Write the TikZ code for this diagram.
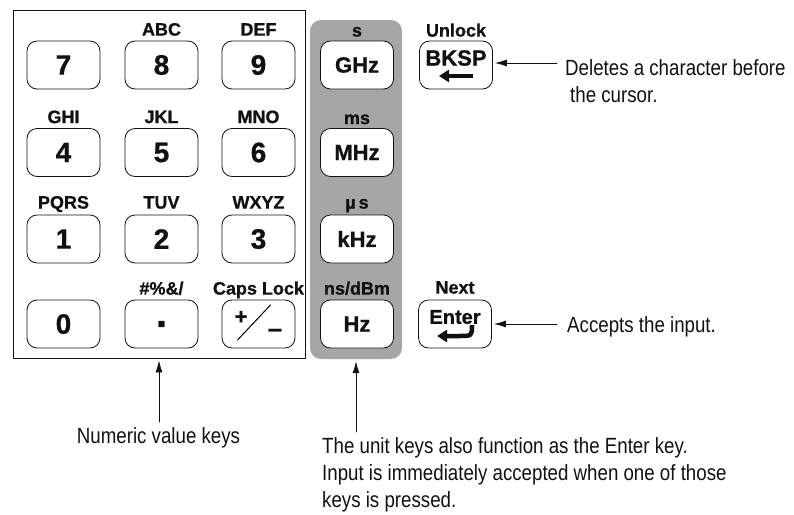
\documentclass[tikz,border=0pt]{standalone}
\usepackage{fontspec}
\setmainfont{Liberation Sans}
\newfontfamily\notefont[FakeStretch=0.85]{Liberation Sans}
\newfontfamily\keyfont[FakeBold=0.8]{Liberation Sans Bold}
\usepackage{tikz}
\usetikzlibrary{arrows.meta,positioning}
\definecolor{kpInk}{HTML}{111111}
\definecolor{kpPanel}{HTML}{A6A6A6}
\tikzset{
  kp diagram/.style={x=1pt, y=-1pt, text=kpInk,
    line cap=round, line join=round},
  kp frame/.style={draw=kpInk, line width=0.8pt, inner sep=0pt,
    minimum width=292pt, minimum height=348pt},
  kp unit panel/.style={fill=kpPanel, rounded corners=11pt, inner sep=0pt,
    minimum width=92pt, minimum height=339pt},
  kp key/.style={draw=kpInk, fill=white, line width=0.8pt,
    rounded corners=10pt, inner sep=0pt,
    minimum width=73pt, minimum height=48pt,
    font=\keyfont\fontsize{28}{28}\selectfont},
  kp unit key/.style={kp key, font=\keyfont\fontsize{22}{22}\selectfont},
  kp key text/.style={inner sep=0pt, font=\keyfont\fontsize{22}{22}\selectfont},
  kp legend/.style={inner sep=0pt, anchor=base,
    font=\keyfont\fontsize{18}{18}\selectfont},
  kp note/.style={inner sep=0pt, align=left,
    font=\notefont\fontsize{22}{27}\selectfont},
  kp arrow/.style={-{Latex[length=12pt,width=7pt]}, draw=kpInk,
    line width=0.8pt, shorten >=2pt},
  kp heavy/.style={-{Triangle[length=10pt,width=12pt]}, draw=kpInk,
    line width=4.5pt, line cap=butt}
}
\begin{document}
\begin{tikzpicture}[kp diagram]
\useasboundingbox (0,0) rectangle (794,514);
% panels
\node[kp frame] (numbox) at (159,184) {};
\node[kp unit panel] (unitpanel) at (356,189.5) {};
% numeric keys
\node[kp key] (k7) at (63.5,65) {7};
\node[kp key] (k8) at (161.5,65) {8};
\node[kp key] (k9) at (258.5,65) {9};
\node[kp key] (k4) at (63.5,152.5) {4};
\node[kp key] (k5) at (161.5,152.5) {5};
\node[kp key] (k6) at (258.5,152.5) {6};
\node[kp key] (k1) at (63.5,239) {1};
\node[kp key] (k2) at (161.5,239) {2};
\node[kp key] (k3) at (258.5,239) {3};
\node[kp key] (k0) at (63.5,324) {0};
\node[kp key, font=\keyfont\fontsize{40}{40}\selectfont] (kdot) at (161.5,324) {.};
\node[kp key] (ksign) at (258.5,324) {};
\node[kp key text] (kplus) at ([xshift=-17.5pt,yshift=6.5pt]ksign.center) {+};
\node[kp key text, font=\keyfont\fontsize{26}{26}\selectfont] (kminus)
  at ([xshift=16.5pt,yshift=-9pt]ksign.center) {–};
\draw[line width=1pt] ([xshift=-21pt,yshift=-16pt]ksign.center)
  -- ([xshift=12pt,yshift=19pt]ksign.center);
\node[kp legend] at ([yshift=5pt]k8.north) {ABC};
\node[kp legend] at ([yshift=5pt]k9.north) {DEF};
\node[kp legend] at ([yshift=5pt]k4.north) {GHI};
\node[kp legend] at ([yshift=5pt]k5.north) {JKL};
\node[kp legend] at ([yshift=5pt]k6.north) {MNO};
\node[kp legend] at ([yshift=6pt]k1.north) {PQRS};
\node[kp legend] at ([yshift=6pt]k2.north) {TUV};
\node[kp legend] at ([yshift=6pt]k3.north) {WXYZ};
\node[kp legend] at ([yshift=5pt]kdot.north) {\#\%\&/};
\node[kp legend] at ([yshift=5pt]ksign.north) {Caps Lock};
% unit keys
\node[kp unit key] (ghz) at (357,65) {GHz};
\node[kp unit key] (mhz) at (357,152.5) {MHz};
\node[kp unit key] (khz) at (357,239) {kHz};
\node[kp unit key] (hz) at (357,324) {Hz};
\node[kp legend] at ([yshift=4pt]ghz.north) {s};
\node[kp legend] at ([yshift=4pt]mhz.north) {ms};
\node[kp legend] at ([yshift=6pt]khz.north) {µ\,s};
\node[kp legend] at ([yshift=5pt]hz.north) {ns/dBm};
% edit keys
\node[kp key] (bksp) at (456,65) {};
\node[kp key text] at ([yshift=7pt]bksp.center) {BKSP};
\draw[kp heavy] ([xshift=17pt,yshift=-11pt]bksp.center)
  -- ([xshift=-17pt,yshift=-11pt]bksp.center);
\node[kp legend] at ([yshift=4pt]bksp.north) {Unlock};
\node[kp key] (enter) at (455,324) {};
\node[kp key text, font=\keyfont\fontsize{20}{20}\selectfont]
  at ([yshift=7pt]enter.center) {Enter};
\draw[kp heavy] ([xshift=17pt,yshift=-1pt]enter.center)
  .. controls ([xshift=17pt,yshift=-12pt]enter.center)
  .. ([xshift=4pt,yshift=-12pt]enter.center)
  -- ([xshift=-18pt,yshift=-12pt]enter.center);
\node[kp legend] at ([yshift=6pt]enter.north) {Next};
% notes
\node[kp note, anchor=base west, inner xsep=8pt] (delnote) at (557,102)
  {Deletes a character before\\\hspace{5pt}the cursor.};
\node[kp note, anchor=base west, inner xsep=10pt] (accnote) at (557,332)
  {Accepts the input.};
\node[kp note, anchor=base, inner ysep=5pt] (numnote) at (158.5,443)
  {Numeric value keys};
\node[kp note, anchor=base west, inner ysep=5pt] (unitnote) at (322,507)
  {The unit keys also function as the Enter key.\\
   Input is immediately accepted when one of those\\
   keys is pressed.};
\draw[kp arrow] ([yshift=2pt]bksp.east -| delnote.west) -- ([yshift=2pt]bksp.east);
\draw[kp arrow] (enter.east -| accnote.west) -- (enter.east);
\draw[kp arrow] (numbox.south |- numnote.north) -- (numbox.south);
\draw[kp arrow] (unitpanel.south |- unitnote.north) -- (unitpanel.south);
\end{tikzpicture}
\end{document}
